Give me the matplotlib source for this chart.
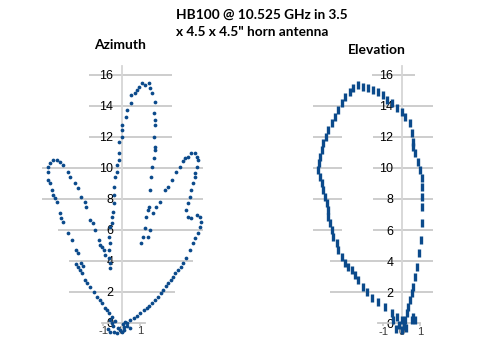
import matplotlib
matplotlib.use("Agg")
import matplotlib.pyplot as plt

az_x = [
    -0.62, -0.26, 0.0, 0.43, -0.45, -0.2, 0.15, -0.35, -0.53, -0.8, 0.1, 0.28, 0.64,
    -0.75, -0.55, -0.1, 0.3, -0.4, 0.05, -0.65, 0.2,
    -0.7, -0.9, -1.07, -1.2, -1.34, -1.5, -1.7, -1.85, -2.0, -2.15, -2.25, -2.36,
    -2.45, -2.18, -2.07, -2.36, -2.45, -2.71, -2.89, -3.15, -3.26, -3.32, -3.5, -3.6,
    -3.69, -3.78, -3.86, -3.96, -3.99, -3.96, -3.86, -3.69, -3.5, -3.32, -3.15,
    -2.89, -2.78, -2.51, -2.36, -2.18, -2.0, -1.91, -1.73, -1.53, -1.43, -1.25,
    -1.16, -1.07, -0.98, -0.89,
    -0.62, -0.62, -0.68, -0.71, -0.62, -0.71, -0.62, -0.53, -0.53, -0.48, -0.44,
    -0.44, -0.41, -0.35, -0.26, -0.26, -0.17, -0.17, -0.17, 0.0, 0.0, 0.0, 0.22,
    0.28, 0.51, 0.51, 0.73, 0.82, 0.91, 1.09, 1.27, 1.45, 1.54, 1.63, 1.81, 1.72,
    1.81, 1.81, 1.72, 1.81, 1.78, 1.72, 1.63, 1.6, 1.54, 1.45, 1.42, 1.34, 1.24,
    1.15, 1.06,
    1.43, 1.54, 1.7, 1.88, 2.05, 2.32, 2.5, 2.72, 2.96, 3.14, 3.32, 3.43, 3.6, 3.77,
    3.97, 4.06, 4.15, 4.06, 3.97, 3.97, 3.87, 3.77, 3.68, 3.6, 3.5, 3.6, 3.77, 4.06,
    4.24, 4.29, 4.24, 4.15, 3.97, 3.87, 3.7, 3.5, 3.32, 3.2, 3.05, 2.9, 2.78, 2.65,
    2.5, 2.4, 2.24, 2.1, 1.98, 1.8, 1.63, 1.5, 1.36, 1.2, 1.0, 0.8, 0.45,
]
az_y = [
    -0.58, -0.68, -0.58, -0.36, -0.2, -0.35, -0.45, 0.1, 0.39, 0.8, -0.26, -0.04, 0.28,
    -0.4, -0.05, -0.5, -0.2, -0.6, -0.1, 0.2, 0.05,
    0.6, 0.95, 1.25, 1.45, 1.68, 2.0, 2.32, 2.55, 2.75, 3.19, 3.4, 3.6,
    3.79, 3.87, 3.66, 4.48, 4.69, 5.34, 5.77, 6.52, 6.73, 7.06, 7.81, 8.03,
    8.24, 8.56, 8.99, 9.21, 9.74, 10.06, 10.32, 10.5, 10.5, 10.39, 10.17,
    9.74, 9.42, 8.99, 8.67, 8.13, 7.81, 7.48, 6.63, 6.41, 5.98, 5.34,
    5.01, 4.9, 4.69, 4.37,
    3.51, 3.83, 4.15, 4.69, 5.12, 5.55, 6.19, 6.41, 6.84, 7.16, 7.7,
    8.24, 8.77, 9.42, 9.74, 10.17, 10.5, 10.93, 11.68, 12.0, 12.43, 12.75, 13.29,
    13.72, 14.15, 14.69, 14.8, 15.01, 15.23, 15.44, 15.34, 15.44, 15.12, 14.8, 14.26, 13.51,
    13.08, 12.75, 12.0, 11.35, 11.14, 10.61, 10.06, 9.42, 8.56, 7.48, 7.27, 6.84, 6.09,
    5.55, 5.12,
    5.55, 5.98, 7.06, 7.48, 7.81, 8.56, 8.77, 9.2, 9.74, 10.06, 10.45, 10.61, 10.71, 10.93,
    10.93, 10.71, 10.5, 10.06, 9.64, 9.42, 8.99, 8.56, 8.13, 7.7, 7.27, 6.84, 6.73, 6.95,
    6.84, 6.52, 6.19, 5.77, 5.45, 5.12, 4.69, 4.15, 3.83, 3.6, 3.4, 3.2, 2.97, 2.75,
    2.54, 2.35, 2.11, 1.9, 1.68, 1.45, 1.25, 1.1, 0.93, 0.8, 0.61, 0.45, 0.15,
]

el_x = [
    -0.3, 0.0, 0.25, -0.15, 0.1, 0.0, -0.25, -0.45, 0.15,
    -0.54, -0.9, -1.26, -1.62, -1.89, -2.08, -2.35, -2.52, -2.7, -2.89, -3.06, -3.24,
    -3.43, -3.51, -3.7, -3.78, -3.88, -3.97, -4.0, -4.05, -4.15, -4.24, -4.32, -4.42,
    -4.5, -4.47, -4.42, -4.32, -4.24, -4.11, -3.97, -3.78, -3.6, -3.43, -3.24, -3.06,
    -2.79, -2.62, -2.35, -2.08, -1.8, -1.53, -1.26, -0.99, -0.81, -0.54, -0.27, 0.0,
    0.18, 0.45, 0.54, 0.63, 0.63, 0.72, 0.9, 0.99, 1.08, 1.08, 1.08, 1.08, 1.08, 1.03,
    0.95, 0.81, 0.72, 0.63, 0.54, 0.45, 0.36, 0.27, 0.18, 0.63, 0.54, 0.72,
]
el_y = [
    -0.35, -0.4, -0.3, -0.1, -0.15, 0.21, 0.4, 0.2, 0.0,
    0.64, 1.07, 1.39, 1.61, 2.03, 2.36, 2.79, 3.11, 3.43, 3.64, 3.86, 4.29,
    4.72, 5.15, 5.57, 6.0, 6.43, 6.86, 7.29, 7.72, 8.15, 8.58, 9.01, 9.44,
    9.87, 10.3, 10.72, 11.15, 11.58, 12.01, 12.44, 12.87, 13.29, 13.72, 14.16, 14.58,
    14.9, 15.12, 15.34, 15.23, 15.12, 15.01, 14.9, 14.69, 14.37, 14.16, 13.84, 13.62,
    13.29, 12.87, 12.22, 11.69, 11.36, 10.94, 10.4, 9.87, 9.33, 8.79, 8.15, 7.5, 6.43, 5.36,
    4.5, 3.64, 3.0, 2.36, 1.93, 1.5, 1.07, 0.64, 0.21, 0.43, 0.21, 0.21,
]

y_ticks = list(range(0, 17, 2))
x_ticks = [-1, 0, 1]
x_tick_labels = ["-1", "0", "1"]

# gridline pieces as they show in the original (y, [(xmin, xmax), ...])
az_grid = [
    (16, [(-1.77, 2.72)]), (14, [(-1.77, 2.72)]), (12, [(-1.77, 2.72)]),
    (10, [(-4.31, 4.39)]), (8, [(-4.31, 4.39)]), (6, [(-3.44, 4.39)]),
    (4, [(-2.85, 3.85)]), (2, [(-2.85, 2.88)]),
]
el_grid = [
    (16, [(-1.6, 0.72)]), (14, [(-4.78, 1.69)]),
    (12, [(-4.78, -3.22), (-1.55, 1.69)]), (10, [(-4.78, -3.22), (-1.55, 1.69)]),
    (8, [(-4.78, -3.22), (-1.55, 1.69)]), (6, [(-4.78, -3.22), (-1.55, 1.69)]),
    (4, [(-3.85, 1.69)]), (2, [(-3.85, 1.69)]),
]

W, H = 485, 338
BLUE = "#0b4a8b"
GRID = "#c9c9c9"

fig = plt.figure(figsize=(W / 100, H / 100), dpi=100)


def add_panel(left, right, top, bottom, x0, y0, sx, sy):
    # box and data origin given in pixels of the output image
    ax = fig.add_axes([left / W, 1 - bottom / H, (right - left) / W, (bottom - top) / H])
    ax.set_xlim((left - x0) / sx, (right - x0) / sx)
    ax.set_ylim((y0 - bottom) / sy, (y0 - top) / sy)
    return ax


def style(ax, grid, x_bounds):
    ax.patch.set_alpha(0)
    for y, pieces in grid:
        for a, b in pieces:
            ax.hlines(y, a, b, color=GRID, lw=1.3, zorder=1)
    ax.spines["top"].set_visible(False)
    ax.spines["right"].set_visible(False)
    ax.spines["left"].set_position(("data", 0))
    ax.spines["left"].set_color("#d6d6d6")
    ax.spines["left"].set_linewidth(1.3)
    ax.spines["bottom"].set_position(("data", 0))
    ax.spines["bottom"].set_bounds(*x_bounds)
    ax.spines["bottom"].set_color(GRID)
    ax.spines["bottom"].set_linewidth(1.3)
    ax.set_yticks(y_ticks)
    ax.set_yticklabels([str(t) for t in y_ticks], family="Liberation Sans")
    ax.set_xticks(x_ticks)
    ax.set_xticklabels(x_tick_labels, family="Liberation Sans")
    ax.tick_params(axis="y", length=0, pad=6, labelsize=9)
    ax.tick_params(axis="x", length=2, color=GRID, width=1.2, pad=0.5, labelsize=8,
                   labelcolor="#3a3a3a")


ax1 = add_panel(30, 215, 66, 330, 121.7, 322.7, 18.5, 15.5)
style(ax1, az_grid, (-1.06, 1.26))
ax1.plot(az_x, az_y, "o", color=BLUE, ms=2.7, mew=0, zorder=3, clip_on=False)

ax2 = add_panel(300, 445, 66, 330, 401.7, 323.3, 18.5, 15.54)
style(ax2, el_grid, (-1.3, 0.97))
ax2.plot(el_x, el_y, "|", color=BLUE, ms=5.5, mew=2.4, zorder=3, clip_on=False)

fig.text(176 / W, 1 - 14.5 / H, "HB100 @ 10.525 GHz in 3.5", ha="left", va="center",
         fontsize=9.8, fontweight="bold", family="Lato")
fig.text(176 / W, 1 - 31.5 / H, 'x 4.5 x 4.5" horn antenna', ha="left", va="center",
         fontsize=9.8, fontweight="bold", family="Lato")
fig.text(120 / W, 1 - 45 / H, "Azimuth", ha="center", va="center",
         fontsize=10, fontweight="bold", family="Lato")
fig.text(376.5 / W, 1 - 49.5 / H, "Elevation", ha="center", va="center",
         fontsize=10, fontweight="bold", family="Lato")

fig.savefig("out.png", dpi=100)
